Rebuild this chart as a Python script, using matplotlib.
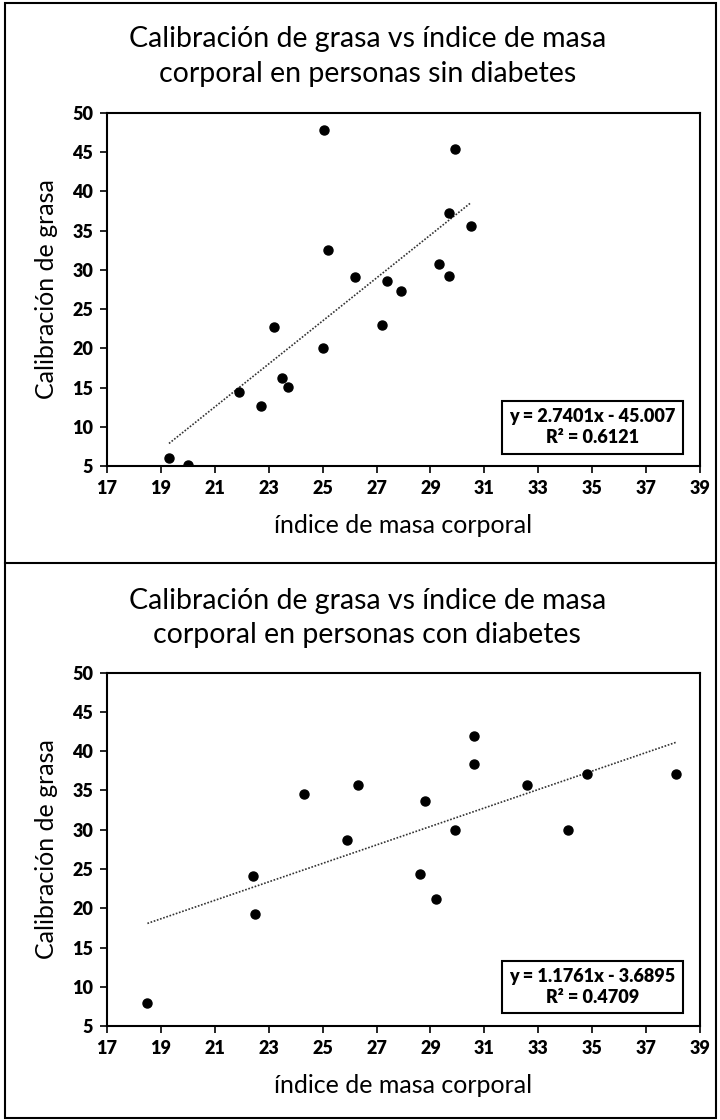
import matplotlib.pyplot as plt
from matplotlib.lines import Line2D
from matplotlib.patches import Rectangle

plt.rcParams['font.family'] = ['Lato', 'DejaVu Sans']

# Data
# personas sin diabetes
imc_sin = [19.3, 20.0, 21.9, 22.7, 23.2, 23.5, 23.7, 25.0, 25.05, 25.2, 26.2,
           29.9, 29.7, 30.5, 29.3, 29.7, 27.4, 27.9, 27.2]
grasa_sin = [6.0, 5.1, 14.4, 12.7, 22.7, 16.2, 15.1, 20.0, 47.8, 32.6, 29.1,
             45.4, 37.3, 35.6, 30.8, 29.2, 28.6, 27.3, 23.0]

# personas con diabetes
imc_con = [18.5, 22.4, 22.5, 24.3, 25.9, 26.3, 30.6, 30.6, 28.8, 29.9,
           28.6, 29.2, 32.6, 34.1, 34.8, 38.1]
grasa_con = [7.9, 24.1, 19.3, 34.6, 28.7, 35.7, 41.9, 38.4, 33.6, 30.0,
             24.4, 21.2, 35.7, 30.0, 37.1, 37.1]

# trend lines (as printed on the chart)
pend_sin, inter_sin, r2_sin = 2.7401, -45.007, 0.6121
pend_con, inter_con, r2_con = 1.1761, -3.6895, 0.4709

titulos = ['Calibración de grasa vs índice de masa\ncorporal en personas sin diabetes',
           'Calibración de grasa vs índice de masa\ncorporal en personas con diabetes']
x_ticks = list(range(17, 40, 2))
y_ticks = list(range(5, 51, 5))


def dibujar(ax, x, y, m, b, r2):
    ax.plot(x, y, 'o', color='black', markersize=6.5, zorder=3)
    xs = [min(x), max(x)]
    ax.plot(xs, [m * v + b for v in xs], linestyle=(0, (1, 1)),
            color='#333333', linewidth=1.2, zorder=2)
    ax.set_xlim(17, 39)
    ax.set_ylim(5, 50)
    ax.set_xticks(x_ticks)
    ax.set_yticks(y_ticks)
    ax.set_xticklabels([str(t) for t in x_ticks], fontweight='heavy', fontsize=13)
    ax.set_yticklabels([str(t) for t in y_ticks], fontweight='heavy', fontsize=13)
    ax.tick_params(direction='out', length=5, width=1.2, pad=5)
    for s in ax.spines.values():
        s.set_linewidth(1.5)
    ax.set_xlabel('índice de masa corporal', fontsize=18)
    ax.set_ylabel('Calibración de grasa', fontsize=18)
    ax.xaxis.set_label_coords(0.5, -0.135)
    ax.yaxis.set_label_coords(-0.082, 0.5)
    signo = '-' if b < 0 else '+'
    texto = f'y = {m:.4f}x {signo} {abs(b):g}\nR² = {r2:.4f}'
    ax.text(0.819, 0.11, texto, transform=ax.transAxes, ha='center', va='center',
            fontsize=13, fontweight='heavy', linespacing=1.3,
            bbox=dict(boxstyle='square,pad=0.4', facecolor='white',
                      edgecolor='black', linewidth=1.5))


fig = plt.figure(figsize=(7.2, 11.2), dpi=100)

ax1 = fig.add_axes([0.1486, 0.5839, 0.8236, 0.3152])
ax2 = fig.add_axes([0.1486, 0.0839, 0.8236, 0.3155])

dibujar(ax1, imc_sin, grasa_sin, pend_sin, inter_sin, r2_sin)
dibujar(ax2, imc_con, grasa_con, pend_con, inter_con, r2_con)

fig.text(0.51, 0.9496, titulos[0], ha='center', va='center', fontsize=20.5,
         linespacing=1.4)
fig.text(0.51, 0.448, titulos[1], ha='center', va='center', fontsize=20.5,
         linespacing=1.4)

# outer frame and divider between the two panels
fig.add_artist(Rectangle((0.007, 0.002), 0.988, 0.995, transform=fig.transFigure,
                         fill=False, edgecolor='black', linewidth=1.5))
fig.add_artist(Line2D([0.007, 0.995], [0.4973, 0.4973], transform=fig.transFigure,
                      color='black', linewidth=1.5))

fig.savefig('out.png', dpi=100)
